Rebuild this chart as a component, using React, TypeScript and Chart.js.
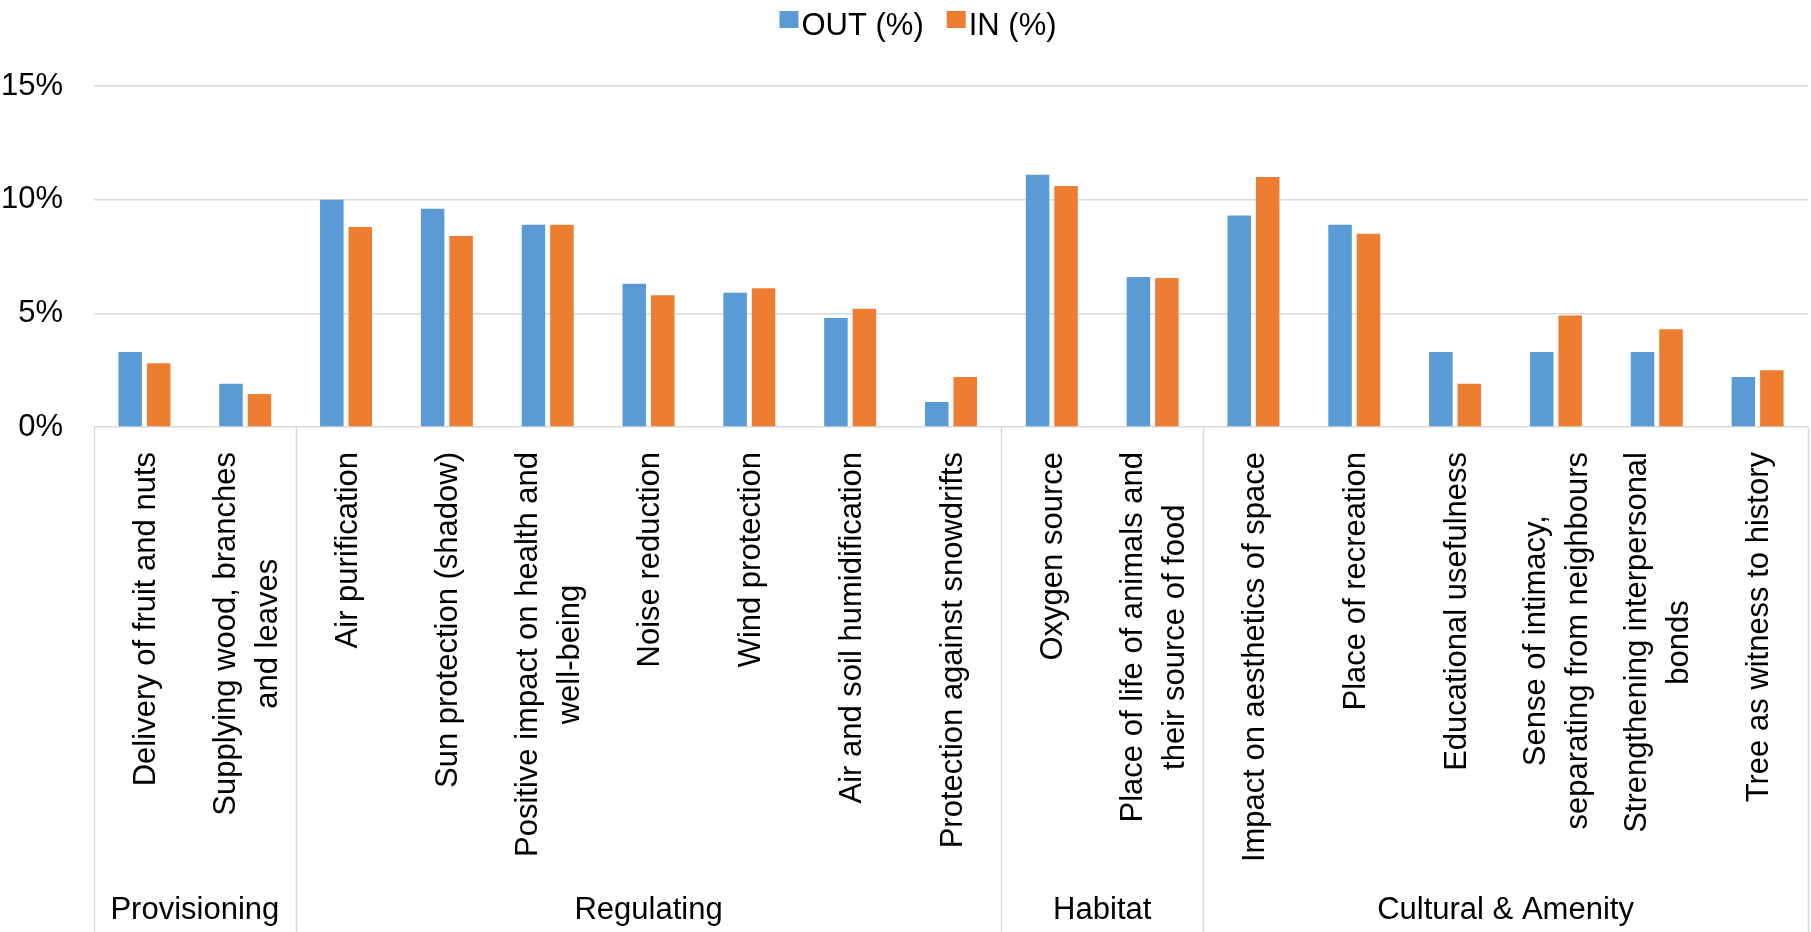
import { useEffect, useRef } from 'react';
import { Chart, registerables } from 'chart.js';

Chart.register(...registerables);

const FONT = '"Liberation Sans", Arial, sans-serif';
const FONT_SIZE = 31;

// category labels, one entry per line of the rotated label
const categories: string[][] = [
  ['Delivery of fruit and nuts'],
  ['Supplying wood, branches', 'and leaves'],
  ['Air purification'],
  ['Sun protection (shadow)'],
  ['Positive impact on health and', 'well-being'],
  ['Noise reduction'],
  ['Wind protection'],
  ['Air and soil humidification'],
  ['Protection against snowdrifts'],
  ['Oxygen source'],
  ['Place of life of animals and', 'their source of food'],
  ['Impact on aesthetics of space'],
  ['Place of recreation'],
  ['Educational usefulness'],
  ['Sense of intimacy,', 'separating from neighbours'],
  ['Strengthening interpersonal', 'bonds'],
  ['Tree as witness to history'],
];

const outValues = [3.3, 1.9, 10.0, 9.6, 8.9, 6.3, 5.9, 4.8, 1.1, 11.1, 6.6, 9.3, 8.9, 3.3, 3.3, 3.3, 2.2];
const inValues = [2.8, 1.45, 8.8, 8.4, 8.9, 5.8, 6.1, 5.2, 2.2, 10.6, 6.55, 11.0, 8.5, 1.9, 4.9, 4.3, 2.5];

const groupNames = ['Provisioning', 'Regulating', 'Habitat', 'Cultural & Amenity'];
const groupSizes = [2, 7, 2, 6];

const seriesNames = ['OUT (%)', 'IN (%)'];
const seriesColors = ['#5B9BD5', '#ED7D31'];

const yMax = 15;
const yStep = 5;

const GRID = '#d9d9d9';

// draws rotated category labels, group labels, group separators and the legend
const overlayPlugin = {
  id: 'overlay',
  afterDraw(chart: any) {
    const { ctx, chartArea, scales } = chart;
    const xs = scales.x;
    const H = chart.height;
    const n = categories.length;

    const edge = (i: number) => {
      if (i === 0) return chartArea.left;
      if (i === n) return chartArea.right;
      return (xs.getPixelForValue(i - 1) + xs.getPixelForValue(i)) / 2;
    };

    ctx.save();

    // separators + group names
    ctx.strokeStyle = GRID;
    ctx.lineWidth = 1.5;
    ctx.fillStyle = '#000';
    ctx.font = `${FONT_SIZE}px ${FONT}`;
    ctx.textAlign = 'center';
    ctx.textBaseline = 'alphabetic';
    let start = 0;
    const bounds = [0];
    groupSizes.forEach((s) => {
      start += s;
      bounds.push(start);
    });
    bounds.forEach((b) => {
      const px = Math.round(edge(b)) + 0.5;
      ctx.beginPath();
      ctx.moveTo(px, chartArea.bottom);
      ctx.lineTo(px, H);
      ctx.stroke();
    });
    groupNames.forEach((name, g) => {
      const cx = (edge(bounds[g]) + edge(bounds[g + 1])) / 2;
      ctx.fillText(name, cx, H - 13);
    });

    // rotated category labels, lines centred on the longest one
    const top = chartArea.bottom + 25;
    const lineH = 42;
    categories.forEach((lines, i) => {
      const cx = xs.getPixelForValue(i) + 2;
      const maxW = Math.max(...lines.map((l) => ctx.measureText(l).width));
      ctx.save();
      ctx.translate(cx, top);
      ctx.rotate(-Math.PI / 2);
      ctx.textAlign = 'center';
      ctx.textBaseline = 'middle';
      lines.forEach((l, j) => {
        ctx.fillText(l, -maxW / 2, (j - (lines.length - 1) / 2) * lineH);
      });
      ctx.restore();
    });

    // legend
    const box = 19;
    const gapText = 3;
    const gapItem = 23;
    const widths = seriesNames.map((s) => ctx.measureText(s).width);
    const total = widths.reduce((a, w) => a + box + gapText + w, 0) + gapItem * (seriesNames.length - 1);
    let lx = 918 - total / 2;
    ctx.textAlign = 'left';
    ctx.textBaseline = 'alphabetic';
    seriesNames.forEach((s, k) => {
      ctx.fillStyle = seriesColors[k];
      ctx.fillRect(lx, 11, box, 17);
      ctx.fillStyle = '#000';
      ctx.fillText(s, lx + box + gapText, 35);
      lx += box + gapText + widths[k] + gapItem;
    });

    ctx.restore();
  },
};

export default function App() {
  const canvasRef = useRef<HTMLCanvasElement>(null);

  useEffect(() => {
    if (!canvasRef.current) return;
    const chart = new Chart(canvasRef.current, {
      type: 'bar',
      data: {
        labels: categories.map((c) => c.join(' ')),
        datasets: [
          {
            label: seriesNames[0],
            data: outValues,
            backgroundColor: seriesColors[0],
            categoryPercentage: 0.565,
            barPercentage: 0.825,
          },
          {
            label: seriesNames[1],
            data: inValues,
            backgroundColor: seriesColors[1],
            categoryPercentage: 0.565,
            barPercentage: 0.825,
          },
        ],
      },
      options: {
        responsive: true,
        maintainAspectRatio: false,
        animation: false,
        layout: { padding: { top: 86, right: 3, bottom: 505, left: 0 } },
        plugins: {
          legend: { display: false },
          tooltip: { enabled: false },
        },
        scales: {
          x: { display: false },
          y: {
            min: 0,
            max: yMax,
            afterFit: (scale: any) => {
              scale.width = 94;
            },
            border: { display: false },
            grid: { color: GRID, lineWidth: 1.5, drawTicks: false },
            ticks: {
              stepSize: yStep,
              padding: 31,
              color: '#000',
              font: { family: FONT, size: FONT_SIZE },
              callback: (v: any) => `${v}%`,
            },
          },
        },
      },
      plugins: [overlayPlugin],
    });
    return () => chart.destroy();
  }, []);

  return (
    <div
      style={{
        position: 'fixed',
        left: 0,
        top: 0,
        width: 1811,
        height: 932,
        background: '#fff',
      }}
    >
      <canvas ref={canvasRef} />
    </div>
  );
}
